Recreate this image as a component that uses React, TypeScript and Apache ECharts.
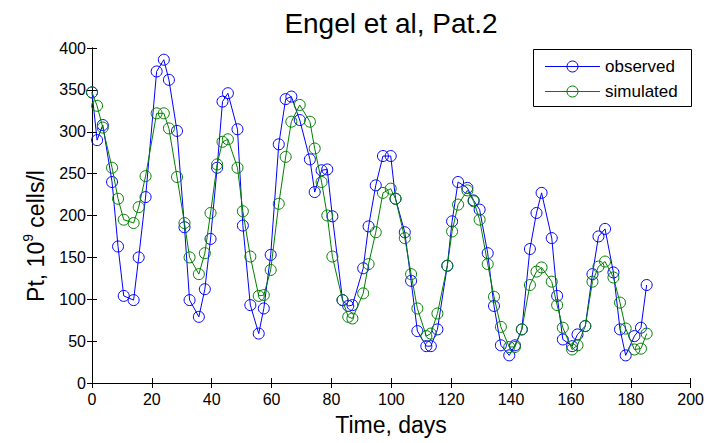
import React, { useEffect, useRef } from "react";
import * as echarts from "echarts";

const days = [0, 1.7, 3.6, 6.7, 8.7, 10.6, 13.9, 15.6, 17.9, 21.6, 24, 25.7, 28.4, 30.9, 32.6, 35.7, 37.7, 39.6, 41.8, 43.6, 45.4, 48.6, 50.4, 52.9, 55.7, 57.4, 59.7, 62.4, 64.7, 66.6, 69.4, 72.8, 74.4, 76.7, 78.6, 80.3, 83.7, 85.6, 87, 90.6, 92.4, 94.8, 97.2, 99.8, 101.4, 104.5, 106.6, 108.7, 111.7, 113.2, 115.4, 118.7, 120.3, 122.3, 125.4, 127.5, 129.5, 132.2, 134.3, 136.6, 139.4, 141.3, 143.6, 146.3, 148.5, 150.2, 153.6, 155.4, 157.3, 160.4, 162.2, 164.8, 167.2, 169.2, 171.4, 174.2, 176.4, 178.3, 181.2, 183.4, 185.3];

const observed = [347, 290, 308, 240, 163, 104, 99, 150, 222, 372, 386, 362, 301, 186, 99, 79, 112, 172, 257, 336, 346, 303, 188, 93, 59, 89, 153, 285, 339, 342, 314, 267, 228, 254, 255, 199, 99, 92, 93, 137, 187, 236, 271, 271, 220, 180, 122, 62, 44, 44, 64, 140, 193, 240, 233, 218, 207, 155, 92, 45, 33, 45, 64, 160, 203, 227, 173, 104, 52, 44, 58, 68, 130, 175, 184, 132, 64, 33, 56, 66, 117];

const simulated = [347, 331, 305, 257, 220, 195, 191, 210, 247, 322, 322, 304, 246, 191, 150, 130, 155, 203, 261, 288, 291, 257, 205, 151, 104, 105, 135, 214, 270, 312, 332, 312, 280, 240, 200, 151, 99, 79, 77, 107, 142, 180, 227, 232, 220, 173, 130, 89, 56, 59, 83, 140, 181, 213, 230, 217, 195, 142, 103, 67, 43, 43, 64, 117, 133, 138, 121, 93, 66, 40, 45, 68, 121, 139, 145, 126, 96, 65, 40, 41, 59];

const seriesNames = ["observed", "simulated"];
const seriesColors = ["#0000FF", "#008000"];
const titleText = "Engel et al, Pat.2";
const xLabel = "Time, days";

const FONT = "'Liberation Sans', Arial, Helvetica, sans-serif";

export default function App() {
  const ref = useRef<HTMLDivElement>(null);

  useEffect(() => {
    if (!ref.current) return;
    const chart = echarts.init(ref.current, undefined, { renderer: "svg" });

    const axisLine = { show: true, lineStyle: { color: "#000", width: 1 } };
    const tick = { show: true, inside: true, length: 5, lineStyle: { color: "#000", width: 1 } };
    const grid = { left: 92, right: 16, top: 48, bottom: 60, containLabel: false };

    const mkSeries = (name: string, vals: number[], color: string) => ({
      name,
      type: "line",
      color,
      data: days.map((d, i) => [d, vals[i]]),
      symbol: "circle",
      symbolSize: 11,
      clip: false,
      lineStyle: { color, width: 1 },
      itemStyle: { color: "rgba(255,255,255,0)", borderColor: color, borderWidth: 1 },
      emphasis: { disabled: true },
      z: name === "observed" ? 2 : 3,
    });

    // legend box drawn as graphic (line + open circle + label per series)
    const legendLeft = 533.5;
    const legendTop = 49.5;
    const legendRowY = [66.5, 91.5];
    const legendItems: any[] = [
      {
        type: "rect",
        shape: { x: legendLeft, y: legendTop, width: 158, height: 57 },
        style: { fill: "#fff", stroke: "#000", lineWidth: 1 },
        z: 10,
      },
    ];
    seriesNames.forEach((n, i) => {
      const y = legendRowY[i];
      legendItems.push(
        {
          type: "line",
          shape: { x1: 545, y1: y, x2: 600, y2: y },
          style: { stroke: seriesColors[i], lineWidth: 1 },
          z: 11,
        },
        {
          type: "circle",
          shape: { cx: 572.5, cy: y, r: 5.5 },
          style: { fill: "none", stroke: seriesColors[i], lineWidth: 1 },
          z: 12,
        },
        {
          type: "text",
          x: 605,
          y: y - 0.5,
          style: {
            text: n,
            fontSize: 17,
            fontFamily: FONT,
            fill: "#000",
            textAlign: "left",
            textVerticalAlign: "middle",
          },
          z: 12,
        }
      );
    });

    chart.setOption({
      animation: false,
      backgroundColor: "#fff",
      color: seriesColors,
      textStyle: { fontFamily: FONT },
      title: {
        text: titleText,
        left: 391,
        top: 9,
        textAlign: "center",
        padding: 0,
        textStyle: { fontSize: 28, fontWeight: "normal", color: "#000", fontFamily: FONT },
      },
      grid,
      xAxis: [
        {
          type: "value",
          min: 0,
          max: 200,
          interval: 20,
          axisLine,
          axisTick: tick,
          splitLine: { show: false },
          axisLabel: { color: "#000", fontSize: 16, margin: 8, fontFamily: FONT },
        },
        {
          type: "value",
          position: "top",
          min: 0,
          max: 200,
          interval: 20,
          axisLine,
          axisTick: tick,
          splitLine: { show: false },
          axisLabel: { show: false },
        },
      ],
      yAxis: [
        {
          type: "value",
          min: 0,
          max: 400,
          interval: 50,
          axisLine,
          axisTick: tick,
          splitLine: { show: false },
          axisLabel: { color: "#000", fontSize: 16, margin: 6, fontFamily: FONT },
        },
        {
          type: "value",
          position: "right",
          min: 0,
          max: 400,
          interval: 50,
          axisLine,
          axisTick: tick,
          splitLine: { show: false },
          axisLabel: { show: false },
        },
      ],
      graphic: [
        {
          type: "text",
          x: 391,
          y: 425,
          style: {
            text: xLabel,
            fontSize: 23,
            fontFamily: FONT,
            fill: "#000",
            textAlign: "center",
            textVerticalAlign: "middle",
          },
        },
        {
          type: "text",
          x: 34,
          y: 236,
          rotation: Math.PI / 2,
          style: {
            text: "{a|Pt, 10}{s|9}{a| cells/l}",
            fill: "#000",
            textAlign: "center",
            textVerticalAlign: "middle",
            rich: {
              a: { fontSize: 23, fontFamily: FONT, fill: "#000", lineHeight: 26, verticalAlign: "bottom" },
              s: { fontSize: 14, fontFamily: FONT, fill: "#000", lineHeight: 14, verticalAlign: "top" },
            },
          },
        },
        ...legendItems,
      ],
      series: [
        mkSeries(seriesNames[0], observed, seriesColors[0]),
        mkSeries(seriesNames[1], simulated, seriesColors[1]),
      ],
    });

    return () => chart.dispose();
  }, []);

  return (
    <div
      ref={ref}
      style={{ position: "fixed", left: 0, top: 0, width: 707, height: 443, background: "#fff" }}
    />
  );
}
